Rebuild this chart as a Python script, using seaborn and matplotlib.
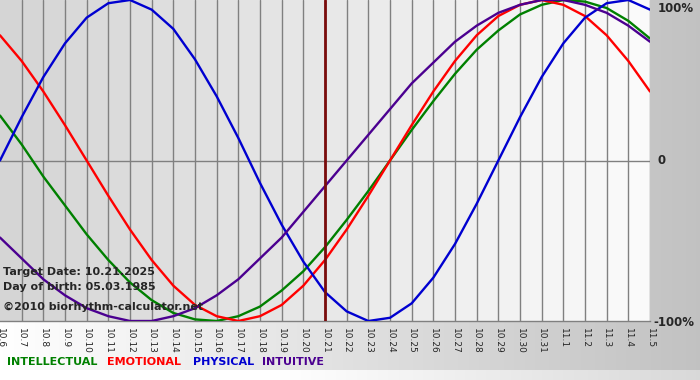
import numpy as np
import pandas as pd
import seaborn as sns
import matplotlib.pyplot as plt

sns.set_style("white")
plt.rcParams['font.family'] = ['DejaVu Sans']

# days shown, 10.6 .. 11.5
day_labels = ["10.6", "10.7", "10.8", "10.9", "10.10", "10.11", "10.12", "10.13",
              "10.14", "10.15", "10.16", "10.17", "10.18", "10.19", "10.20", "10.21",
              "10.22", "10.23", "10.24", "10.25", "10.26", "10.27", "10.28", "10.29",
              "10.30", "10.31", "11.1", "11.2", "11.3", "11.4", "11.5"]
target_label = "10.21"

# curve values per day (fraction of 100%)
physical = [0.00, 0.27, 0.52, 0.73, 0.89, 0.98, 1.00, 0.94, 0.82, 0.63, 0.40,
            0.14, -0.14, -0.40, -0.63, -0.82, -0.94, -1.00, -0.98, -0.89, -0.73,
            -0.52, -0.27, 0.00, 0.27, 0.52, 0.73, 0.89, 0.98, 1.00, 0.94]
emotional = [0.78, 0.62, 0.43, 0.22, 0.00, -0.22, -0.43, -0.62, -0.78, -0.90, -0.97,
             -1.00, -0.97, -0.90, -0.78, -0.62, -0.43, -0.22, 0.00, 0.22, 0.43,
             0.62, 0.78, 0.90, 0.97, 1.00, 0.97, 0.90, 0.78, 0.62, 0.43]
intellectual = [0.28, 0.10, -0.10, -0.28, -0.46, -0.62, -0.76, -0.87, -0.95, -0.99, -1.00,
                -0.97, -0.91, -0.81, -0.69, -0.54, -0.37, -0.19, 0.00, 0.19, 0.37,
                0.54, 0.69, 0.81, 0.91, 0.97, 1.00, 0.99, 0.95, 0.87, 0.76]
intuitive = [-0.48, -0.61, -0.74, -0.84, -0.92, -0.97, -1.00, -1.00, -0.97, -0.92, -0.84,
             -0.74, -0.61, -0.48, -0.32, -0.16, 0.00, 0.16, 0.32, 0.48, 0.61,
             0.74, 0.84, 0.92, 0.97, 1.00, 1.00, 0.97, 0.92, 0.84, 0.74]

names = ["INTELLECTUAL", "EMOTIONAL", "PHYSICAL", "INTUITIVE"]
colors = {"INTELLECTUAL": "#008000", "EMOTIONAL": "#ff0000",
          "PHYSICAL": "#0000d0", "INTUITIVE": "#4b0090"}

n = len(day_labels)
rows = []
for name, vals in zip(names, [intellectual, emotional, physical, intuitive]):
    for i, v in enumerate(vals):
        rows.append({"day": i, "value": v, "rhythm": name})
df = pd.DataFrame(rows)

fig = plt.figure(figsize=(7, 3.8), dpi=100)

# figure background: white -> gray gradient, lighter strip at bottom
bg = fig.add_axes([0, 0, 1, 1], zorder=0)
grad = np.linspace(1.0, 0.76, 200)
img = np.tile(grad, (38, 1))
img[-1, :] = np.clip(np.linspace(1.1, 0.85, 200), 0, 1)
bg.imshow(np.dstack([img] * 3), aspect='auto', extent=[0, 1, 0, 1], interpolation='nearest')
bg.set_xlim(0, 1)
bg.set_ylim(0, 1)
bg.axis('off')

ax = fig.add_axes([0, 59 / 380, 650 / 700, 321 / 380], zorder=1)
ax.set_facecolor('none')

# shaded day columns, darker on the left
shades = np.linspace(0.835, 0.98, n - 1)
for i in range(n - 1):
    ax.axvspan(i, i + 1, color=str(shades[i]), lw=0, zorder=0)
for i in range(1, n):
    ax.axvline(i, color='#808080', lw=1, zorder=1)
ax.axhline(0, color='#808080', lw=1, zorder=1)

sns.lineplot(data=df, x="day", y="value", hue="rhythm", palette=colors,
             hue_order=names, legend=False, linewidth=1.7, ax=ax, zorder=3)

ax.axvline(day_labels.index(target_label), color='#7a0c0c', lw=2, zorder=4)

ax.set_xlim(0, n - 1)
ax.set_ylim(-1.0, 1.0)
ax.set_xticks(range(n))
ax.set_xticklabels(day_labels, rotation=270, fontsize=6.5)
ax.set_yticks([])
ax.set_xlabel("")
ax.set_ylabel("")
ax.tick_params(axis='x', length=4, width=1, color='#808080', pad=1)
for s in ['top', 'left', 'right']:
    ax.spines[s].set_visible(False)
ax.spines['bottom'].set_color('#808080')
ax.spines['bottom'].set_linewidth(1)

# right-side percentage labels
fig.text(658 / 700, 1 - 8 / 380, "100%", fontsize=8.5, fontweight='bold', va='center')
fig.text(658 / 700, 1 - 161 / 380, "0", fontsize=8.5, fontweight='bold', va='center')
fig.text(653 / 700, 1 - 322 / 380, "-100%", fontsize=8.5, fontweight='bold', va='center')

# info text inside the plot
fig.text(3 / 700, 1 - 272 / 380, "Target Date: 10.21.2025", fontsize=8,
         fontweight='bold', va='center', zorder=5)
fig.text(3 / 700, 1 - 287 / 380, "Day of birth: 05.03.1985", fontsize=8,
         fontweight='bold', va='center', zorder=5)
fig.text(3 / 700, 1 - 307 / 380, "\u00a92010 biorhythm-calculator.net", fontsize=8,
         fontweight='bold', va='center', zorder=5)

# coloured legend words
for name, x0 in zip(names, [7, 107, 193, 262]):
    fig.text(x0 / 700, 1 - 362 / 380, name, fontsize=8, fontweight='bold',
             color=colors[name], va='center')

fig.savefig("out.png", dpi=100)
